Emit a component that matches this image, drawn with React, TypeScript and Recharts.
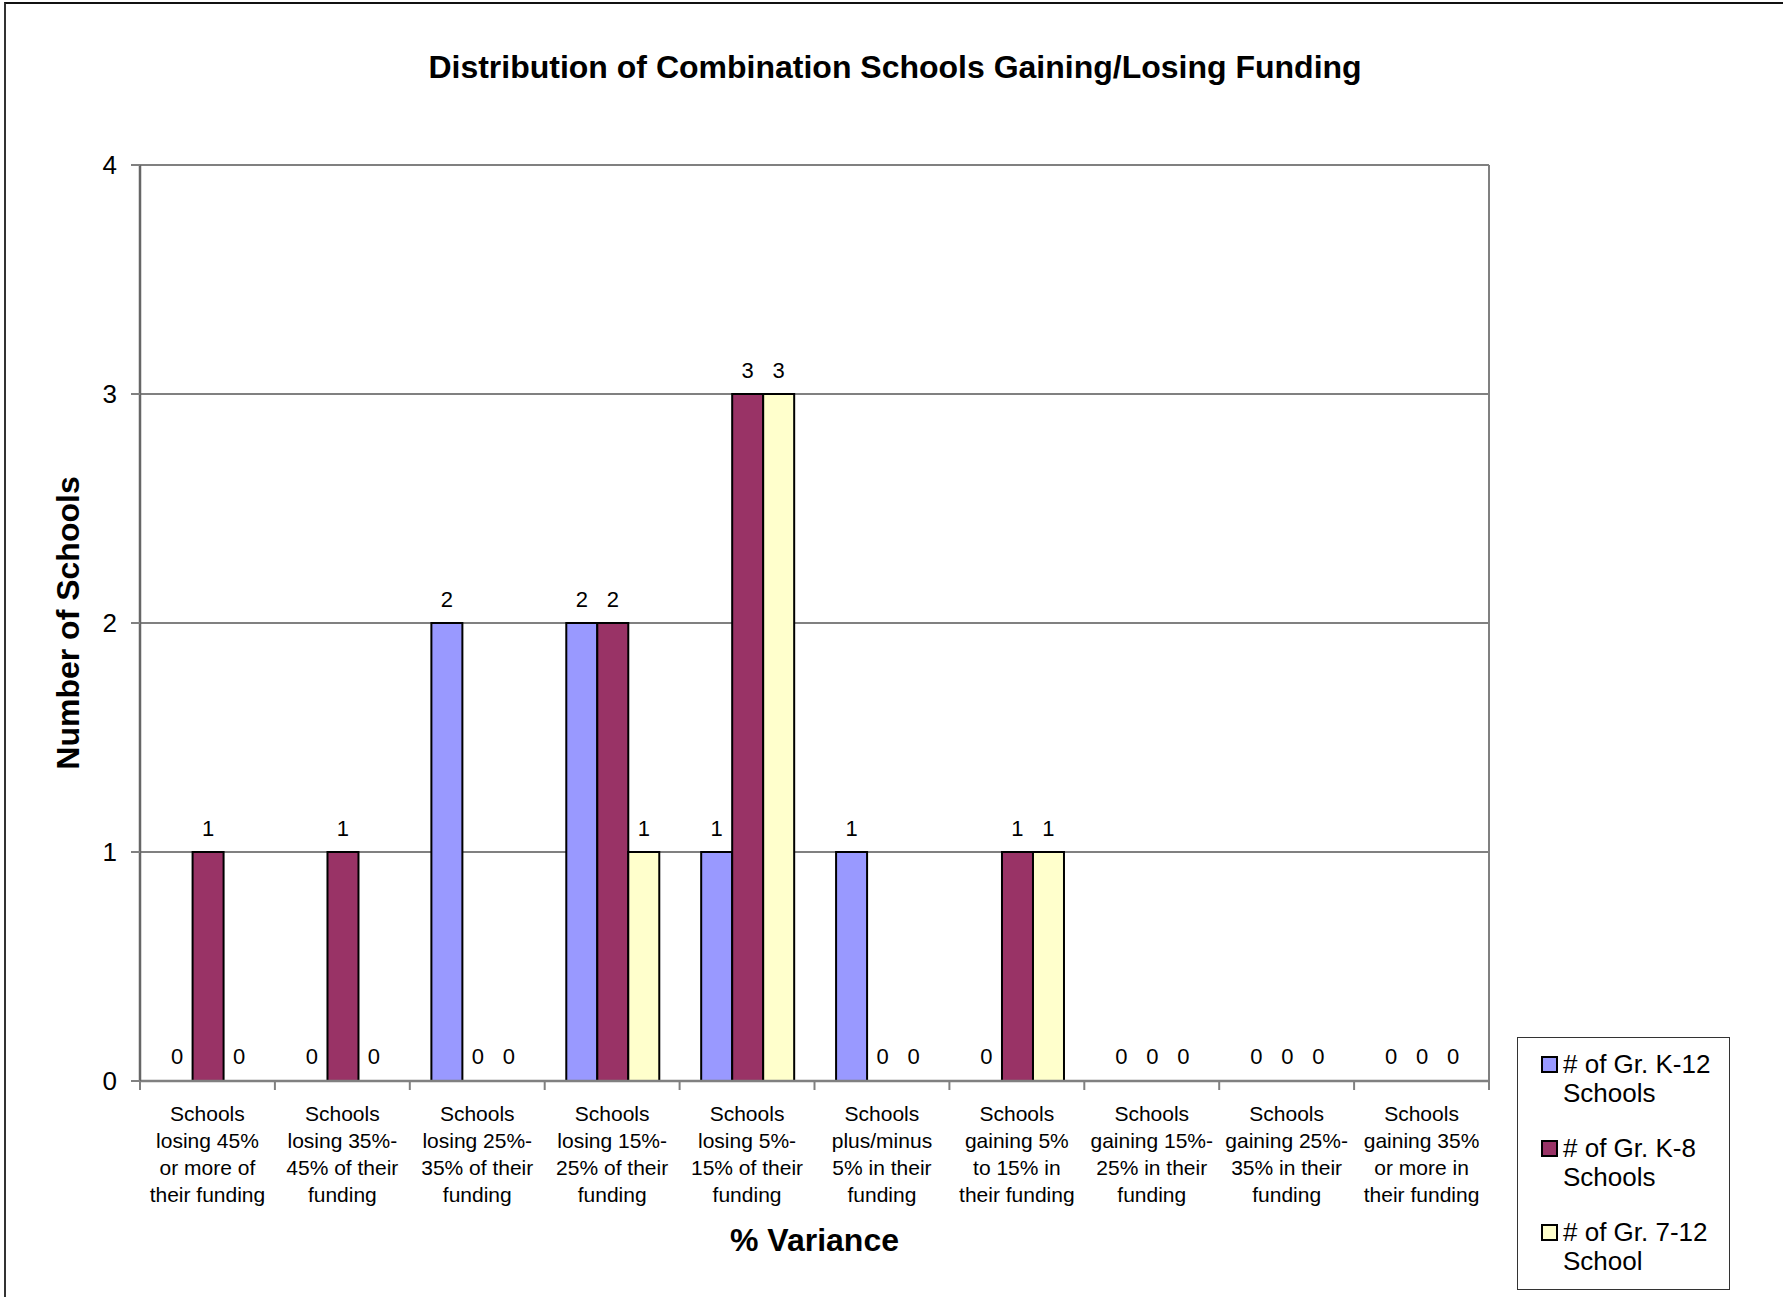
import { BarChart, Bar, XAxis, YAxis, CartesianGrid, LabelList, Label, Rectangle } from 'recharts';

const categories = [
  'Schools\nlosing 45%\nor more of\ntheir funding',
  'Schools\nlosing 35%-\n45% of their\nfunding',
  'Schools\nlosing 25%-\n35% of their\nfunding',
  'Schools\nlosing 15%-\n25% of their\nfunding',
  'Schools\nlosing 5%-\n15% of their\nfunding',
  'Schools\nplus/minus\n5% in their\nfunding',
  'Schools\ngaining 5%\nto 15% in\ntheir funding',
  'Schools\ngaining 15%-\n25% in their\nfunding',
  'Schools\ngaining 25%-\n35% in their\nfunding',
  'Schools\ngaining 35%\nor more in\ntheir funding',
];

const k12Schools = [0, 0, 2, 2, 1, 1, 0, 0, 0, 0];
const k8Schools = [1, 1, 0, 2, 3, 0, 1, 0, 0, 0];
const g712Schools = [0, 0, 0, 1, 3, 0, 1, 0, 0, 0];

const yTicks = [0, 1, 2, 3, 4];

const series = [
  { key: 'k12', name: '# of Gr. K-12\nSchools', color: '#9999FF' },
  { key: 'k8', name: '# of Gr. K-8\nSchools', color: '#993366' },
  { key: 'g712', name: '# of Gr. 7-12\nSchool', color: '#FFFFCC' },
];

const data = categories.map((name, i) => ({
  name,
  k12: k12Schools[i],
  k8: k8Schools[i],
  g712: g712Schools[i],
}));

const FONT = '"Liberation Sans", Arial, sans-serif';

function CategoryTick(props: any) {
  const { x, y, payload, index, visibleTicksCount } = props;
  const half = payload?.offset ?? 0;
  const lines = String(payload.value).split('\n');
  const isLast = index === visibleTicksCount - 1;
  return (
    <g>
      <line x1={x - half} y1={y} x2={x - half} y2={y + 9} stroke="#808080" strokeWidth={2} />
      {isLast && <line x1={x + half} y1={y} x2={x + half} y2={y + 9} stroke="#808080" strokeWidth={2} />}
      <text x={x} y={y + 40} textAnchor="middle" fontSize={21} fill="#000" fontFamily={FONT}>
        {lines.map((l, i) => (
          <tspan key={i} x={x} dy={i === 0 ? 0 : 27}>{l}</tspan>
        ))}
      </text>
    </g>
  );
}

// zero-valued bars keep their label but draw no rectangle
const makeShape = (key: string) => (props: any) =>
  props.payload?.[key] === 0 ? <g /> : <Rectangle {...props} />;

export default function App() {
  return (
    <div style={{ position: 'absolute', left: 0, top: 0, width: 1783, height: 1297, background: '#fff', fontFamily: FONT }}>
      <div style={{ position: 'absolute', left: 4, top: 2, width: 1779, height: 1295, borderTop: '2px solid #111', borderLeft: '2px solid #333' }} />
      <div style={{ position: 'absolute', left: 0, top: 47, width: 1790, textAlign: 'center', fontSize: 32, fontWeight: 'bold', lineHeight: '40px' }}>
        Distribution of Combination Schools Gaining/Losing Funding
      </div>
      <BarChart
        width={1783}
        height={1297}
        data={data}
        margin={{ top: 165, right: 294, left: 40, bottom: 0 }}
        barCategoryGap="16%"
        barGap={0}
        style={{ fontFamily: FONT }}
      >
        <CartesianGrid
          stroke="#808080"
          strokeWidth={2}
          verticalCoordinatesGenerator={({ offset }: any) => [offset.left, offset.left + offset.width]}
        />
        <XAxis
          dataKey="name"
          height={216}
          interval={0}
          tickSize={0}
          tickMargin={0}
          tickLine={false}
          axisLine={{ stroke: '#808080', strokeWidth: 2.5 }}
          tick={<CategoryTick />}
        >
          <Label
            content={({ viewBox }: any) => (
              <text
                x={viewBox.x + viewBox.width / 2}
                y={viewBox.y + 170}
                textAnchor="middle"
                fontSize={32}
                fontWeight="bold"
                fill="#000"
                fontFamily={FONT}
              >
                % Variance
              </text>
            )}
          />
        </XAxis>
        <YAxis
          width={100}
          domain={[0, 4]}
          ticks={yTicks}
          interval={0}
          tickSize={9}
          tickMargin={14}
          tick={{ fill: '#000', fontSize: 26, fontFamily: FONT }}
          tickLine={{ stroke: '#808080', strokeWidth: 2 }}
          axisLine={{ stroke: '#666', strokeWidth: 2.5 }}
        >
          <Label
            content={({ viewBox }: any) => {
              const cx = viewBox.x + 28;
              const cy = viewBox.y + viewBox.height / 2;
              return (
                <text
                  x={cx}
                  y={cy}
                  transform={`rotate(-90 ${cx} ${cy})`}
                  textAnchor="middle"
                  dominantBaseline="central"
                  fontSize={32}
                  fontWeight="bold"
                  fill="#000"
                  fontFamily={FONT}
                >
                  Number of Schools
                </text>
              );
            }}
          />
        </YAxis>
        {series.map((s) => (
          <Bar
            key={s.key}
            dataKey={s.key}
            name={s.name}
            fill={s.color}
            stroke="#000"
            strokeWidth={2}
            minPointSize={1}
            shape={makeShape(s.key)}
            isAnimationActive={false}
          >
            <LabelList dataKey={s.key} position="top" offset={16} fontSize={22} fill="#000" fontFamily={FONT} />
          </Bar>
        ))}
      </BarChart>
      <div
        style={{
          position: 'absolute',
          left: 1517,
          top: 1037,
          width: 213,
          height: 253,
          boxSizing: 'border-box',
          border: '1.5px solid #333',
          background: '#fff',
        }}
      >
        {series.map((s, i) => (
          <div key={s.key} style={{ position: 'absolute', left: 0, top: 12 + i * 84, width: 213 }}>
            <div
              style={{
                position: 'absolute',
                left: 23,
                top: 6,
                width: 17,
                height: 17,
                boxSizing: 'border-box',
                background: s.color,
                border: '2px solid #000',
              }}
            />
            <div style={{ position: 'absolute', left: 45, top: 0, fontSize: 26, lineHeight: '29px', whiteSpace: 'pre', color: '#000' }}>
              {s.name}
            </div>
          </div>
        ))}
      </div>
    </div>
  );
}
